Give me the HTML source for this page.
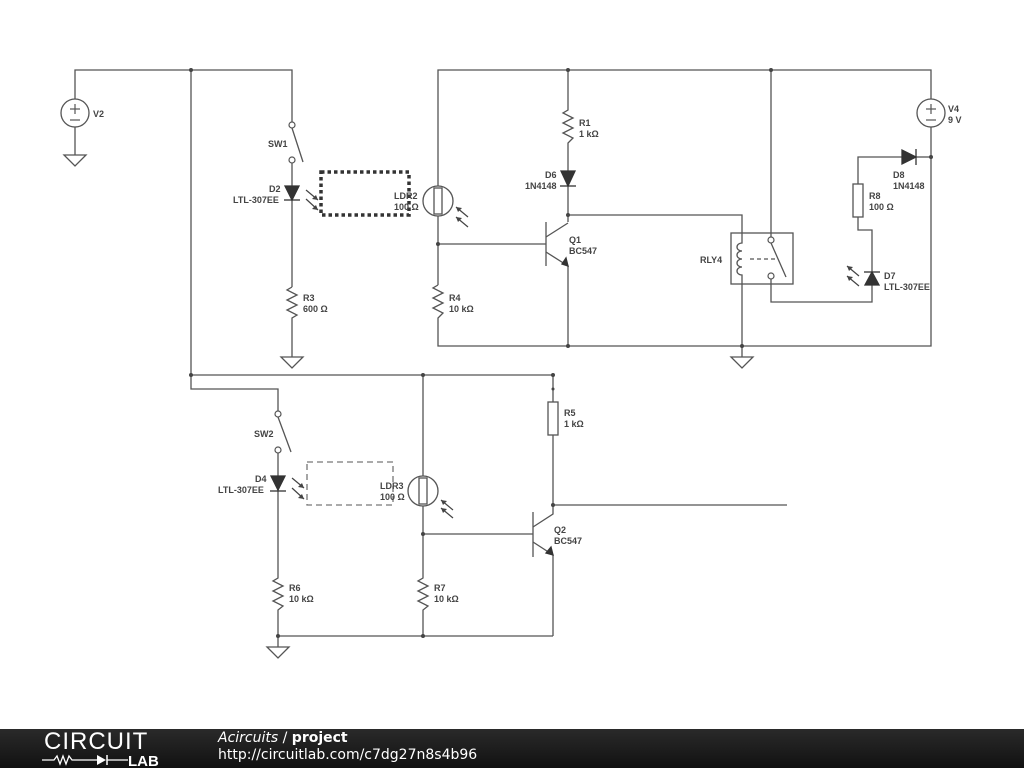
<!DOCTYPE html>
<html><head><meta charset="utf-8"><style>
html,body{margin:0;padding:0;background:#fff;width:1024px;height:768px;overflow:hidden}
svg{display:block}
text{font-family:"Liberation Sans",sans-serif;font-size:9px;fill:#444;font-weight:bold}
</style></head><body>
<svg width="1024" height="768" viewBox="0 0 1024 768">
<g stroke="#555" stroke-width="1.3" fill="none">
<polyline points="75,99 75,70 292,70 292,122"/>
<line x1="75" y1="127" x2="75" y2="155"/>
<line x1="191" y1="70" x2="191" y2="375"/>
<polyline points="191,375 191,389 278,389 278,411"/>
<line x1="191" y1="375" x2="553" y2="375"/>
<line x1="292" y1="128" x2="303" y2="162"/>
<polyline points="292,163 292,287"/>
<polyline points="292,287 287,290 297,295 287,300 297,305 287,310 297,315 292,318 292,357"/>
<polyline points="931,99 931,70 438,70 438,186"/>
<line x1="438" y1="216" x2="438" y2="285"/>
<polyline points="438,285 433,288 443,293 433,298 443,303 433,308 443,313 438,318 438,346 931,346 931,127"/>
<line x1="438" y1="244" x2="546" y2="244"/>
<polyline points="568,70 568,110 563,113 573,118 563,123 573,128 563,133 573,138 568,143 568,222"/>
<polyline points="568,215 742,215 742,240"/>
<line x1="546" y1="222" x2="546" y2="266"/>
<line x1="546" y1="237" x2="568" y2="223"/>
<polyline points="546,252 568,266 568,346"/>
<rect x="731" y="233" width="62" height="51"/>
<path d="M742,240 v3 a5,4 0 1 0 0,8 a5,4 0 1 0 0,8 a5,4 0 1 0 0,8 a5,4 0 1 0 0,8 v3"/>
<line x1="742" y1="278" x2="742" y2="357"/>
<line x1="771" y1="70" x2="771" y2="237"/>
<line x1="771" y1="243" x2="786" y2="277"/>
<line x1="750" y1="259" x2="778" y2="259" stroke-dasharray="4,3"/>
<polyline points="771,279 771,302 872,302 872,285"/>
<polyline points="872,272 872,230 858,230 858,217"/>
<rect x="853" y="184" width="10" height="33"/>
<polyline points="858,184 858,157 902,157"/>
<line x1="916" y1="157" x2="931" y2="157"/>
<line x1="278" y1="417" x2="291" y2="452"/>
<polyline points="278,453 278,578 273,581 283,586 273,591 283,596 273,601 283,606 278,610 278,647"/>
<line x1="278" y1="636" x2="553" y2="636"/>
<line x1="423" y1="375" x2="423" y2="476"/>
<polyline points="423,506 423,578 418,581 428,586 418,591 428,596 418,601 428,606 423,610 423,636"/>
<line x1="423" y1="534" x2="533" y2="534"/>
<line x1="553" y1="375" x2="553" y2="402"/>
<rect x="548" y="402" width="10" height="33"/>
<line x1="553" y1="435" x2="553" y2="505"/>
<line x1="553" y1="505" x2="787" y2="505"/>
<line x1="533" y1="512" x2="533" y2="557"/>
<polyline points="533,527 553,514 553,505"/>
<polyline points="533,542 553,555 553,636"/>
<circle cx="75" cy="113" r="14"/>
<circle cx="931" cy="113" r="14"/>
<circle cx="438" cy="201" r="15"/>
<rect x="434" y="188" width="8" height="26"/>
<circle cx="423" cy="491" r="15"/>
<rect x="419" y="478" width="8" height="26"/>
<polygon points="64,155 86,155 75,166"/>
<polygon points="281,357 303,357 292,368"/>
<polygon points="731,357 753,357 742,368"/>
<polygon points="267,647 289,647 278,658"/>
</g>
<g stroke="#555" stroke-width="1.2">
<line x1="70" y1="109" x2="80" y2="109"/><line x1="75" y1="104" x2="75" y2="114"/><line x1="70" y1="120" x2="80" y2="120"/>
<line x1="926" y1="109" x2="936" y2="109"/><line x1="931" y1="104" x2="931" y2="114"/><line x1="926" y1="120" x2="936" y2="120"/>
</g>
<g stroke="#555" stroke-width="1.2" fill="#fff">
<circle cx="292" cy="125" r="3"/><circle cx="292" cy="160" r="3"/>
<circle cx="278" cy="414" r="3"/><circle cx="278" cy="450" r="3"/>
<circle cx="771" cy="240" r="3"/><circle cx="771" cy="276" r="3"/>
</g>
<g fill="#333" stroke="#333" stroke-width="1.3">
<polygon points="285,186 299,186 292,200"/><line x1="284" y1="200" x2="300" y2="200"/>
<polygon points="561,171 575,171 568,186"/><line x1="560" y1="186" x2="576" y2="186"/>
<polygon points="902,150 902,164 916,157"/><line x1="916" y1="149" x2="916" y2="165"/>
<polygon points="865,285 879,285 872,272"/><line x1="864" y1="272" x2="880" y2="272"/>
<polygon points="271,476 285,476 278,490"/><line x1="270" y1="491" x2="286" y2="491"/>
<polygon points="562,264 566,258 568,266"/>
<polygon points="546,553 551,547 553,555"/>
</g>
<g stroke="#444" stroke-width="1.2" fill="none">
<line x1="306" y1="190" x2="318" y2="200"/><line x1="306" y1="199" x2="318" y2="210"/>
<line x1="468" y1="217" x2="456" y2="207"/><line x1="468" y1="227" x2="456" y2="217"/>
<line x1="292" y1="478" x2="304" y2="488"/><line x1="292" y1="488" x2="304" y2="499"/>
<line x1="453" y1="510" x2="441" y2="500"/><line x1="453" y1="518" x2="441" y2="508"/>
<line x1="859" y1="276" x2="847" y2="266"/><line x1="859" y1="286" x2="847" y2="276"/>
</g>
<g fill="#444">
<polygon points="318,200 312,199 316,195"/><polygon points="318,210 312,209 316,205"/>
<polygon points="456,207 462,208 458,212"/><polygon points="456,217 462,218 458,222"/>
<polygon points="304,488 298,487 302,483"/><polygon points="304,499 298,498 302,494"/>
<polygon points="441,500 447,501 443,505"/><polygon points="441,508 447,509 443,513"/>
<polygon points="847,266 853,267 849,271"/><polygon points="847,276 853,277 849,281"/>
</g>
<rect x="321" y="172" width="88" height="43" fill="none" stroke="#333" stroke-width="3.5" stroke-dasharray="3.5,3"/>
<rect x="307" y="462" width="86" height="43" fill="none" stroke="#777" stroke-width="1.3" stroke-dasharray="6,4"/>
<g fill="#444">
<circle cx="191" cy="70" r="2"/><circle cx="191" cy="375" r="2"/><circle cx="423" cy="375" r="2"/><circle cx="553" cy="375" r="2"/><circle cx="553" cy="389" r="1.5"/>
<circle cx="568" cy="70" r="2"/><circle cx="771" cy="70" r="2"/><circle cx="438" cy="244" r="2"/><circle cx="568" cy="215" r="2"/>
<circle cx="568" cy="346" r="2"/><circle cx="742" cy="346" r="2"/><circle cx="931" cy="157" r="2"/>
<circle cx="423" cy="534" r="2"/><circle cx="553" cy="505" r="2"/><circle cx="278" cy="636" r="2"/><circle cx="423" cy="636" r="2"/>
</g>
<text x="93" y="117">V2</text>
<text x="268" y="147">SW1</text>
<text x="269" y="192">D2</text>
<text x="233" y="203">LTL-307EE</text>
<text x="303" y="301">R3</text><text x="303" y="312">600 Ω</text>
<text x="394" y="199">LDR2</text><text x="394" y="210">100 Ω</text>
<text x="449" y="301">R4</text><text x="449" y="312">10 kΩ</text>
<text x="579" y="126">R1</text><text x="579" y="137">1 kΩ</text>
<text x="545" y="178">D6</text><text x="525" y="189">1N4148</text>
<text x="569" y="243">Q1</text><text x="569" y="254">BC547</text>
<text x="700" y="263">RLY4</text>
<text x="948" y="112">V4</text><text x="948" y="123">9 V</text>
<text x="893" y="178">D8</text><text x="893" y="189">1N4148</text>
<text x="869" y="199">R8</text><text x="869" y="210">100 Ω</text>
<text x="884" y="279">D7</text><text x="884" y="290">LTL-307EE</text>
<text x="254" y="437">SW2</text>
<text x="255" y="482">D4</text><text x="218" y="493">LTL-307EE</text>
<text x="380" y="489">LDR3</text><text x="380" y="500">100 Ω</text>
<text x="564" y="416">R5</text><text x="564" y="427">1 kΩ</text>
<text x="554" y="533">Q2</text><text x="554" y="544">BC547</text>
<text x="289" y="591">R6</text><text x="289" y="602">10 kΩ</text>
<text x="434" y="591">R7</text><text x="434" y="602">10 kΩ</text>
</svg>
<div style="position:absolute;left:0;top:729px;width:1024px;height:39px;background:linear-gradient(#2a2a2a,#111);">
<div style="position:absolute;left:44px;top:1px;color:#fff;font-family:'Liberation Sans',sans-serif;font-size:24px;letter-spacing:1px;font-weight:normal;line-height:24px">CIRCUIT</div>
<svg style="position:absolute;left:42px;top:24px" width="132" height="14"><polyline points="0,7 12,7 15,3 18,11 21,3 24,11 27,3 30,7 55,7" stroke="#fff" fill="none" stroke-width="1.3"/><polygon points="55,2 55,12 64,7" fill="#fff"/><line x1="65" y1="2" x2="65" y2="12" stroke="#fff" stroke-width="1.5"/><line x1="65" y1="7" x2="86" y2="7" stroke="#fff" stroke-width="1.3"/><text x="86" y="13" style="fill:#fff;font-size:15px;font-weight:bold">LAB</text></svg>
<div style="position:absolute;left:218px;top:1px;color:#fff;font-family:'DejaVu Sans',sans-serif;font-size:14px;line-height:17px"><i>Acircuits</i> / <b>project</b><br>http://circuitlab.com/c7dg27n8s4b96</div>
</div>
</body></html>
